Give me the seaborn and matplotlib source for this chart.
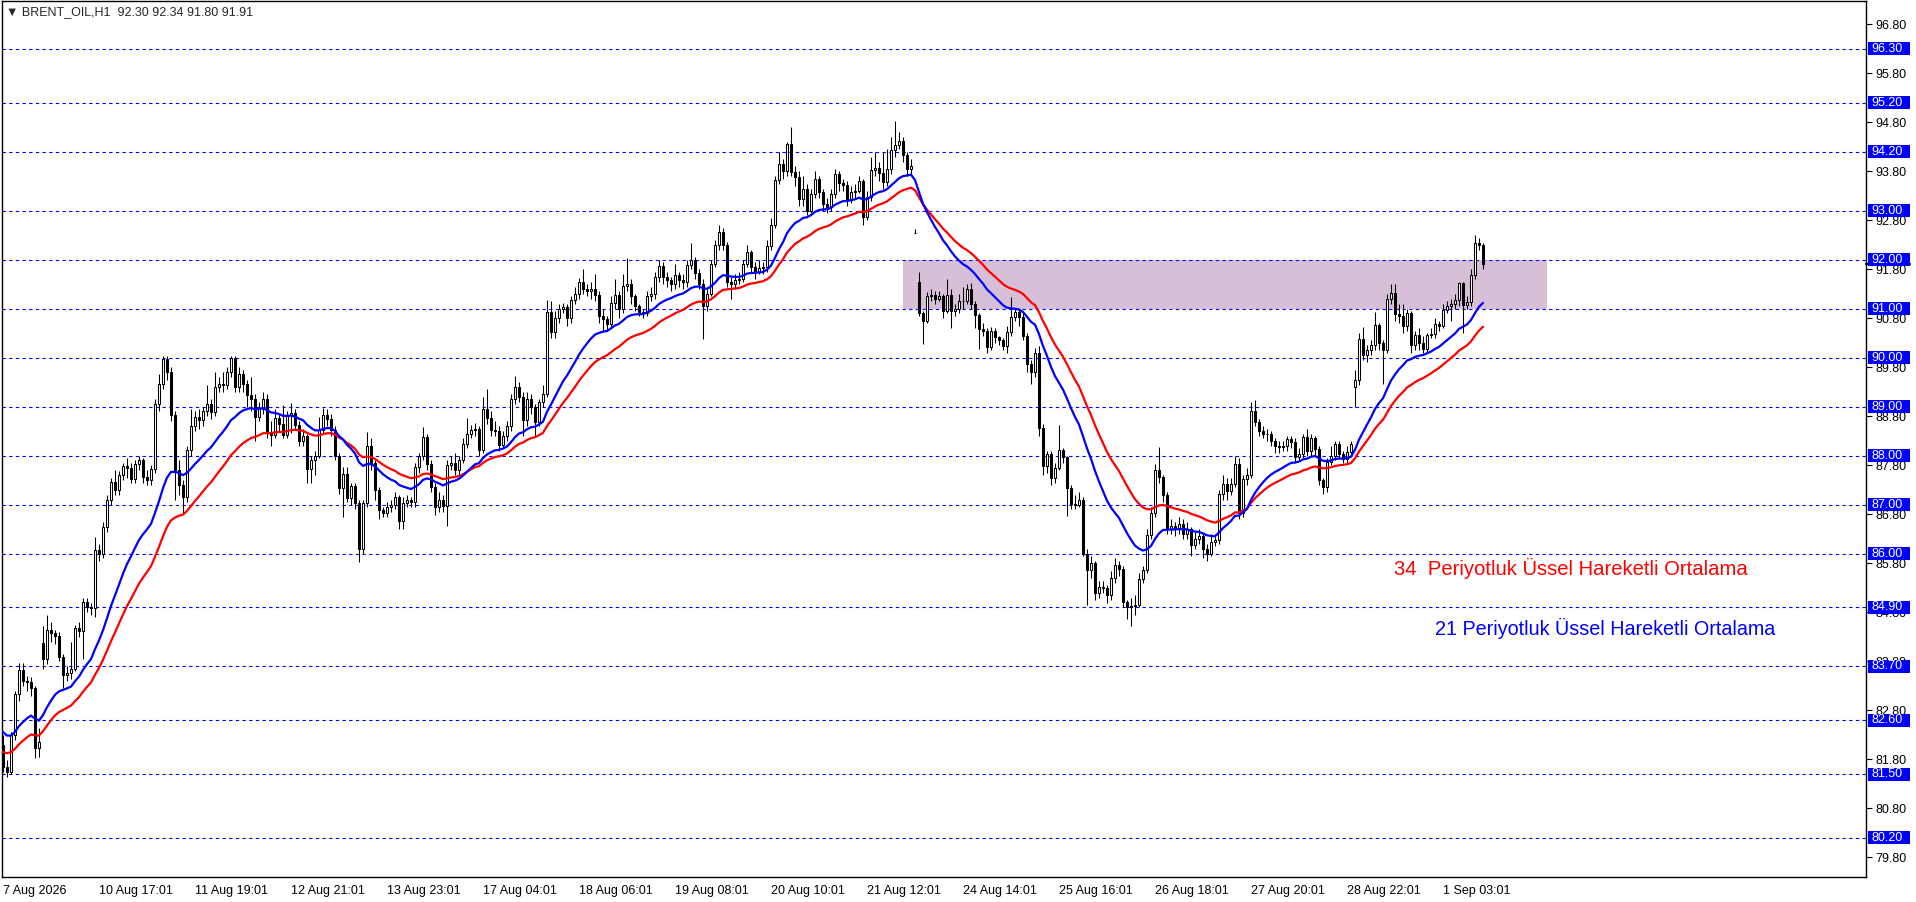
import numpy as np
import pandas as pd
import seaborn as sns
import matplotlib.pyplot as plt
from matplotlib.patches import Rectangle
from matplotlib.transforms import blended_transform_factory

# hourly BRENT_OIL candles
closes = [
    81.65, 81.55, 82.29, 83.14, 83.63, 83.41, 83.38, 83.25, 82.04, 82.16,
    83.84, 84.44, 84.37, 84.31, 83.89, 83.52, 83.56, 83.65, 84.49, 84.42,
    85.01, 84.91, 84.88, 86.08, 86.00, 86.54, 87.09, 87.46, 87.30, 87.60,
    87.78, 87.75, 87.53, 87.83, 87.90, 87.56, 87.50, 87.73, 89.06, 89.47,
    89.98, 89.71, 88.82, 87.70, 87.40, 87.16, 88.12, 88.60, 88.79, 88.72,
    88.90, 89.06, 88.89, 89.40, 89.47, 89.45, 89.71, 90.00, 89.40, 89.67,
    89.47, 89.23, 89.16, 88.79, 88.95, 89.16, 88.48, 88.43, 88.76, 88.64,
    88.43, 88.82, 88.86, 88.62, 88.30, 88.41, 87.73, 87.92, 88.00, 88.52,
    88.82, 88.75, 88.52, 88.00, 87.33, 87.62, 87.14, 87.37, 87.03, 86.10,
    87.03, 88.20, 87.84, 87.30, 86.88, 86.83, 86.96, 87.00, 87.15, 86.67,
    87.03, 87.09, 87.06, 87.77, 88.00, 88.38, 87.82, 87.36, 86.95, 87.10,
    86.98, 87.80, 87.85, 87.70, 87.92, 88.24, 88.45, 88.52, 88.55, 88.12,
    88.96, 88.76, 88.53, 88.50, 88.21, 88.41, 88.60, 89.16, 89.40, 89.20,
    88.72, 89.16, 88.99, 88.69, 89.10, 89.25, 90.93, 90.52, 90.80, 91.00,
    91.03, 90.80, 91.17, 91.29, 91.54, 91.40, 91.36, 91.40, 91.27, 90.85,
    90.78, 90.68, 91.12, 91.27, 91.00, 91.46, 91.51, 91.25, 91.05, 90.93,
    90.90, 91.25, 91.29, 91.65, 91.86, 91.65, 91.58, 91.50, 91.68, 91.58,
    91.54, 91.88, 92.00, 91.73, 91.51, 91.05, 91.30, 91.92, 92.29, 92.56,
    92.29, 91.54, 91.51, 91.58, 91.61, 91.92, 92.16, 91.85, 91.75, 91.82,
    91.85, 92.27, 92.70, 93.63, 93.96, 93.80, 94.36, 93.79, 93.68, 93.24,
    93.45, 93.00, 93.34, 93.65, 93.38, 93.14, 93.07, 93.34, 93.75, 93.56,
    93.53, 93.22, 93.38, 93.41, 93.61, 92.87, 93.27, 93.82, 93.87, 93.77,
    93.58, 93.85, 94.23, 94.33, 94.42, 94.13, 93.85, 93.90, 92.54, 90.91,
    90.75, 91.26, 91.28, 91.20, 91.25, 90.95, 91.27, 90.95, 91.00, 91.15,
    91.16, 91.40, 91.10, 90.86, 90.59, 90.55, 90.22, 90.54, 90.42, 90.35,
    90.24, 90.52, 90.83, 90.93, 90.82, 90.44, 89.86, 89.70, 90.10, 88.56,
    87.78, 88.04, 87.54, 87.75, 88.11, 87.97, 87.33, 87.02, 86.99, 87.10,
    86.00, 85.67, 85.81, 85.20, 85.32, 85.30, 85.15, 85.50, 85.76, 85.69,
    85.01, 84.90, 84.94, 84.95, 85.49, 85.66, 86.37, 86.82, 87.71, 87.56,
    87.19, 86.51, 86.56, 86.50, 86.60, 86.41, 86.51, 86.17, 86.30, 86.35,
    86.10, 86.00, 86.24, 86.27, 87.21, 87.43, 87.27, 87.43, 87.82, 86.82,
    87.53, 87.60, 88.91, 88.69, 88.50, 88.45, 88.44, 88.30, 88.19, 88.17,
    88.20, 88.33, 88.27, 87.97, 88.04, 88.38, 88.10, 88.35, 88.14, 87.50,
    87.36, 87.87, 87.99, 88.23, 88.04, 87.94, 88.07, 88.23, 89.54, 90.37,
    90.05, 90.16, 90.25, 90.66, 90.29, 90.15, 91.20, 91.31, 90.88, 90.85,
    90.64, 90.90, 90.25, 90.46, 90.30, 90.18, 90.46, 90.48, 90.69, 90.64,
    90.98, 91.05, 91.10, 91.17, 91.52, 91.07, 91.14, 91.68, 92.34, 92.30,
    91.91,
]
highs = [
    82.30, 81.78, 82.35, 83.20, 83.76, 83.76, 83.50, 83.48, 83.30, 82.45,
    84.52, 84.74, 84.60, 84.45, 84.40, 83.95, 83.70, 84.20, 84.55, 84.60,
    85.10, 85.10, 85.00, 86.34, 86.20, 86.65, 87.20, 87.55, 87.70, 87.68,
    87.85, 87.95, 87.85, 87.90, 88.00, 87.95, 87.70, 87.80, 89.15, 89.67,
    90.03, 90.03, 89.80, 88.90, 87.90, 87.50, 88.20, 88.95, 88.90, 88.95,
    89.00, 89.45, 89.15, 89.71, 89.60, 89.70, 89.80, 90.03, 90.03, 89.80,
    89.75, 89.55, 89.60, 89.25, 89.10, 89.30, 89.25, 88.70, 88.95, 88.85,
    89.03, 88.90, 89.07, 88.95, 88.70, 88.55, 88.45, 88.00, 88.10, 88.78,
    88.98, 88.96, 88.85, 88.60, 88.05, 87.77, 87.77, 87.45, 87.45, 87.10,
    87.10, 88.48, 88.35, 87.90, 87.35, 86.95, 87.05, 87.10, 87.25, 87.20,
    87.15, 87.20, 87.15, 87.85, 88.05, 88.59, 88.45, 87.90, 87.45, 87.25,
    87.20, 87.90, 88.00, 88.05, 88.00, 88.35, 88.76, 88.62, 88.66, 88.60,
    89.20, 89.35, 88.90, 88.70, 88.60, 88.50, 88.70, 89.25, 89.62, 89.50,
    89.30, 89.30, 89.25, 89.05, 89.15, 89.45, 91.17, 91.15, 90.95, 91.10,
    91.12, 91.10, 91.25, 91.45, 91.62, 91.80, 91.50, 91.55, 91.70, 91.35,
    91.00, 90.85, 91.25, 91.60, 91.35, 91.70, 92.03, 91.60, 91.30, 91.10,
    91.00, 91.35, 91.45, 91.75, 92.00, 91.95, 91.75, 91.65, 91.90, 91.75,
    91.70, 92.00, 92.34, 92.05, 91.80, 91.60, 91.40, 92.00, 92.40, 92.70,
    92.65, 92.35, 91.65, 91.70, 91.75, 92.00, 92.30, 92.20, 91.95, 92.00,
    91.95, 92.40, 92.85, 93.70, 94.20, 94.05, 94.40, 94.71, 93.90, 93.80,
    93.70, 93.55, 93.45, 93.80, 93.70, 93.45, 93.25, 93.45, 93.85, 93.80,
    93.65, 93.60, 93.50, 93.55, 93.70, 93.65, 93.40, 94.10, 94.20, 94.00,
    94.20, 94.25, 94.50, 94.82, 94.60, 94.50, 94.20, 94.05, 92.62, 91.74,
    90.95, 91.33, 91.40, 91.35, 91.35, 91.30, 91.60, 91.39, 91.10, 91.30,
    91.45, 91.50, 91.53, 91.15, 90.90, 90.70, 90.60, 90.62, 90.60, 90.45,
    90.40, 90.65, 91.24, 91.00, 91.00, 90.90, 90.50, 89.95, 90.20, 90.24,
    88.65, 88.10, 88.10, 87.85, 88.62, 88.15, 88.00, 87.40, 87.20, 87.25,
    87.15, 86.10, 85.95, 85.85, 85.45, 85.45, 85.35, 85.65, 85.90, 85.85,
    85.75, 85.05, 85.10, 85.15, 85.60, 85.75, 86.50, 86.95, 87.82, 88.18,
    87.60, 87.25, 86.70, 86.65, 86.75, 86.70, 86.65, 86.55, 86.45, 86.50,
    86.45, 86.20, 86.40, 86.40, 87.30, 87.60, 87.55, 87.55, 88.00, 87.95,
    87.60, 87.75, 89.10, 89.13, 88.75, 88.60, 88.55, 88.50, 88.35, 88.30,
    88.30, 88.40, 88.40, 88.35, 88.15, 88.45, 88.55, 88.45, 88.40, 88.20,
    87.55, 87.95, 88.20, 88.30, 88.30, 88.10, 88.20, 88.30, 89.75, 90.50,
    90.63, 90.25, 90.35, 90.93, 90.70, 90.35, 91.30, 91.50, 91.50, 91.10,
    91.10, 91.00, 90.95, 90.55, 90.60, 90.45, 90.50, 90.60, 90.80, 90.75,
    91.10, 91.15, 91.20, 91.30, 91.55, 91.55, 91.25, 91.80, 92.51, 92.45,
    92.34,
]
lows = [
    81.55, 81.45, 81.50, 82.20, 83.00, 83.30, 83.20, 83.10, 81.82, 81.85,
    83.65, 83.75, 84.20, 84.15, 83.80, 83.25, 83.40, 83.45, 83.60, 84.30,
    83.85, 84.80, 84.75, 84.70, 85.85, 85.90, 86.45, 87.00, 87.20, 87.20,
    87.50, 87.55, 87.45, 87.45, 87.70, 87.45, 87.40, 87.40, 87.65, 88.90,
    89.35, 89.55, 88.70, 87.10, 87.20, 86.80, 87.05, 88.00, 88.50, 88.55,
    88.60, 88.80, 88.75, 88.80, 89.30, 89.30, 89.35, 89.60, 89.30, 89.30,
    89.30, 89.00, 88.90, 88.30, 88.70, 88.85, 88.35, 88.20, 88.35, 88.50,
    88.35, 88.35, 88.47, 88.55, 88.20, 88.20, 87.45, 87.45, 87.60, 87.95,
    88.45, 88.60, 88.40, 87.90, 87.22, 86.75, 87.05, 87.00, 86.90, 85.83,
    86.00, 86.95, 87.70, 87.10, 86.71, 86.75, 86.75, 86.85, 86.90, 86.50,
    86.50, 86.95, 86.95, 86.95, 87.65, 87.90, 87.70, 87.25, 86.78, 86.85,
    86.85, 86.56, 87.70, 87.60, 87.60, 87.85, 88.15, 88.35, 88.40, 88.00,
    88.05, 88.65, 88.40, 88.40, 88.10, 88.15, 88.30, 88.50, 89.05, 89.10,
    88.40, 88.60, 88.85, 88.40, 88.60, 89.00, 89.20, 90.40, 90.40, 90.70,
    90.92, 90.65, 90.70, 91.10, 91.20, 91.30, 91.25, 91.20, 91.15, 90.70,
    90.55, 90.55, 90.60, 91.00, 90.80, 90.90, 91.35, 91.10, 90.95, 90.85,
    90.80, 90.85, 91.15, 91.20, 91.55, 91.50, 91.45, 91.35, 91.40, 91.45,
    91.40, 91.45, 91.80, 91.60, 91.40, 90.38, 90.95, 91.25, 91.85, 92.20,
    92.20, 91.45, 91.20, 91.40, 91.50, 91.55, 91.85, 91.75, 91.60, 91.70,
    91.70, 91.75, 92.20, 92.65, 93.55, 93.65, 93.70, 93.70, 93.50, 93.10,
    93.10, 92.90, 92.95, 93.25, 93.25, 93.00, 92.95, 93.00, 93.25, 93.40,
    93.40, 93.10, 93.15, 93.25, 93.35, 92.70, 92.80, 93.20, 93.70, 93.60,
    93.45, 93.50, 93.75, 94.10, 94.25, 94.00, 93.70, 93.75, 92.54, 90.85,
    90.27, 90.70, 91.15, 91.10, 91.15, 90.80, 90.90, 90.61, 90.85, 90.90,
    91.00, 91.10, 91.00, 90.60, 90.17, 90.45, 90.10, 90.15, 90.30, 90.25,
    90.15, 90.10, 90.45, 90.75, 90.65, 90.35, 89.70, 89.47, 89.60, 88.41,
    87.60, 87.65, 87.40, 87.45, 87.70, 87.85, 86.76, 86.90, 86.90, 86.95,
    85.95, 84.95, 85.50, 85.05, 85.10, 85.20, 85.00, 85.05, 85.40, 85.55,
    84.90, 84.67, 84.53, 84.75, 84.90, 85.40, 85.60, 86.30, 86.75, 87.45,
    87.05, 86.40, 86.40, 86.35, 86.40, 86.30, 86.30, 85.95, 86.10, 86.20,
    85.90, 85.85, 85.95, 86.15, 86.20, 87.10, 87.10, 87.20, 87.35, 86.70,
    86.75, 87.40, 87.55, 88.60, 88.40, 88.35, 88.30, 88.20, 88.05, 88.05,
    88.10, 88.10, 88.15, 87.85, 87.90, 87.95, 88.00, 88.00, 88.00, 87.40,
    87.22, 87.25, 87.80, 87.90, 87.95, 87.85, 87.85, 88.00, 89.00, 89.45,
    89.95, 89.90, 90.05, 90.15, 90.15, 89.47, 90.10, 91.10, 90.75, 90.70,
    90.50, 90.55, 90.10, 90.15, 90.15, 90.10, 90.10, 90.40, 90.40, 90.55,
    90.60, 90.90, 90.75, 91.00, 91.05, 90.50, 91.00, 91.05, 91.60, 92.20,
    91.80,
]
first_open = 82.10
gap_opens = {10: 84.18, 228: 92.54, 229: 91.54, 338: 89.40}   # session gaps

ema21_seed = 82.36
ema34_seed = 81.95

level_prices = [96.30, 95.20, 94.20, 93.00, 92.00, 91.00, 90.00, 89.00,
                88.00, 87.00, 86.00, 84.90, 83.70, 82.60, 81.50, 80.20]
price_ticks = [79.80, 80.80, 81.80, 82.80, 83.80, 84.80, 85.80, 86.80, 87.80,
               88.80, 89.80, 90.80, 91.80, 92.80, 93.80, 94.80, 95.80, 96.80]
date_labels = ["7 Aug 2026", "10 Aug 17:01", "11 Aug 19:01", "12 Aug 21:01",
               "13 Aug 23:01", "17 Aug 04:01", "18 Aug 06:01", "19 Aug 08:01",
               "20 Aug 10:01", "21 Aug 12:01", "24 Aug 14:01", "25 Aug 16:01",
               "26 Aug 18:01", "27 Aug 20:01", "28 Aug 22:01", "1 Sep 03:01"]
label_every = 24
zone_low, zone_high = 91.00, 92.00
zone_start_bar = 225
last_bid = 91.91
title = "\u25bc BRENT_OIL,H1  92.30 92.34 91.80 91.91"


def ema(values, period, seed):
    k = 2.0 / (period + 1)
    out = [seed]
    for v in values[1:]:
        out.append(out[-1] + k * (v - out[-1]))
    return out


c = np.array(closes)
opens = [first_open] + closes[:-1]
for i, v in gap_opens.items():
    opens[i] = v
o = np.array(opens)
h = np.maximum(np.array(highs), np.maximum(o, c))
l = np.minimum(np.array(lows), np.minimum(o, c))
x = np.arange(len(c))

df = pd.DataFrame({"bar": x, "ema21": ema(closes, 21, ema21_seed),
                   "ema34": ema(closes, 34, ema34_seed)})

sns.set_style("white")
plt.rcParams["font.family"] = ["Liberation Sans", "DejaVu Sans"]

W, H = 1916, 902
fig = plt.figure(figsize=(W / 100, H / 100), dpi=100)
ax_l, ax_r, ax_t, ax_b = 2, 1866, 1, 877
ax = fig.add_axes([ax_l / W, 1 - ax_b / H, (ax_r - ax_l) / W, (ax_b - ax_t) / H])

px_per_bar = 4.0
ppu = 49.0  # pixels per price unit
ax.set_xlim((ax_l - 3) / px_per_bar, (ax_r - 3) / px_per_bar)
ax.set_ylim(96.30 - (ax_b - 48.9) / ppu, 96.30 + (48.9 - ax_t) / ppu)

# support zone
ax.add_patch(Rectangle((zone_start_bar, zone_low), 161, zone_high - zone_low,
                       facecolor="#D8BFD8", edgecolor="none", zorder=1))

# horizontal levels
for p in level_prices:
    ax.axhline(p, color="#0000FF", lw=0.8, ls=(0, (3, 3)), zorder=2)

# candles
up = c >= o
body = np.abs(c - o)
body = np.where(body < 0.008, 0.008, body)
ax.vlines(x, l, h, color="black", lw=0.75, zorder=3)
ax.bar(x[up], body[up], bottom=np.minimum(o, c)[up], width=0.72,
       color="white", edgecolor="black", linewidth=0.75, zorder=4)
ax.bar(x[~up], body[~up], bottom=np.minimum(o, c)[~up], width=0.72,
       color="black", edgecolor="black", linewidth=0.75, zorder=4)

# moving averages
sns.lineplot(data=df, x="bar", y="ema34", color="#FF0000", lw=1.6, ax=ax, zorder=5)
sns.lineplot(data=df, x="bar", y="ema21", color="#0000FF", lw=1.6, ax=ax, zorder=6)

ax.text(347.75, 85.69, "34  Periyotluk \u00dcssel Hareketli Ortalama", color="#FF0000",
        fontsize=14.6, ha="left", va="center", zorder=7)
ax.text(358.0, 84.48, "21 Periyotluk \u00dcssel Hareketli Ortalama", color="#0000FF",
        fontsize=14.2, ha="left", va="center", zorder=7)

# axes styling
for s in ax.spines.values():
    s.set_color("black")
    s.set_linewidth(1.0)
ax.set_xlabel("")
ax.set_ylabel("")

ax.yaxis.tick_right()
ax.set_yticks(price_ticks)
ax.set_yticklabels([f"{p:.2f}" for p in price_ticks])
ax.tick_params(axis="y", direction="out", length=4, width=0.8, pad=3,
               labelsize=9, colors="black")

ax.set_xticks(np.arange(len(date_labels)) * label_every)
ax.set_xticklabels(date_labels)
ax.tick_params(axis="x", direction="out", length=5, width=0.8, pad=1,
               labelsize=9, colors="black")
for lbl in ax.get_xticklabels():
    lbl.set_horizontalalignment("left")

# price boxes for the horizontal levels
trans = blended_transform_factory(ax.transAxes, ax.transData)
span = ax_r - ax_l
for p in level_prices:
    ax.add_patch(Rectangle((1 + 2 / span, p - 6.5 / ppu), 42 / span, 13 / ppu,
                           transform=trans, facecolor="#0000FF", edgecolor="none",
                           clip_on=False, zorder=8))
    ax.text(1 + 5 / span, p, f"{p:.2f}", transform=trans, color="white",
            fontsize=9, ha="left", va="center", clip_on=False, zorder=9)
ax.plot([1, 1 + 44 / span], [last_bid, last_bid], transform=trans, color="black",
        lw=1.5, clip_on=False, zorder=7)

fig.text(6 / W, 1 - 12 / H, title, fontsize=9, ha="left", va="center")

fig.savefig("out.png", dpi=100)
